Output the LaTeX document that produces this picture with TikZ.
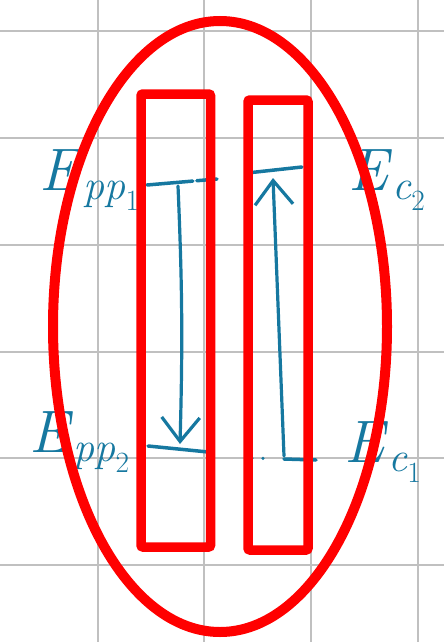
\documentclass[tikz,border=0pt]{standalone}
\usepackage{xcolor}
\usepackage{tikz}
\usetikzlibrary{arrows.meta, calc}
\definecolor{ink}{RGB}{22,120,160}
\definecolor{rule}{RGB}{192,192,192}
\newcommand{\energy}[2]{\textit{E}\textsubscript{\textit{#1}\textsubscript{#2}}}
\tikzset{
    gridline/.style={draw=rule, line width=2pt},
    bar/.style={rectangle, draw=red, line width=9.5pt, rounded corners=2pt, inner sep=0pt},
    ring/.style={draw=red, line width=10pt},
    level/.style={draw=ink, line width=3.5pt, line cap=round},
    arrow/.style={-{Straight Barb[length=24pt, width=38pt]}, draw=ink, line width=3.2pt, line cap=round},
    energylabel/.style={text=ink, font=\fontsize{60}{66}\selectfont, inner sep=0pt, anchor=base},
}
\begin{document}
\begin{tikzpicture}[x=1pt, y=-1pt]
    \useasboundingbox (0,0) rectangle (444,642);
    % squared paper
    \foreach \x in {97.5,204.3,311,417.7}
        \draw[gridline] (\x,0) -- (\x,642);
    \foreach \y in {31.5,138.2,245,351.7,458.4,565}
        \draw[gridline] (0,\y) -- (444,\y);

    % energy levels
    \coordinate (pp1a) at (147,185);
    \coordinate (pp1b) at (217,179);
    \coordinate (pp1m) at (178,186);
    \coordinate (pp2a) at (148,446);
    \coordinate (pp2b) at (208,452);
    \coordinate (pp2m) at (180,444);
    \coordinate (c2a) at (247,173);
    \coordinate (c2b) at (302,167);
    \coordinate (c2m) at (273,178);
    \coordinate (c1a) at (252,458);
    \coordinate (c1b) at (316,460);
    \coordinate (c1m) at (284,456);

    \draw[level, dash pattern=on 46pt off 4pt on 30pt] (pp1a) -- (pp1b);
    \draw[level] (pp2a) -- (pp2b);
    \draw[level] (c2a) -- (c2b);
    \draw[level, dash pattern=on 0pt off 11pt on 0pt off 21pt on 40pt] (c1a) -- (c1b);

    \draw[arrow] (pp1m) to[bend left=2] (pp2m);
    \draw[arrow] (c1m) -- (c2m);

    \node[energylabel] (epp1) at (90,190) {\energy{pp}{1}};
    \node[energylabel] (ec2) at (387,190) {\energy{c}{2}};
    \node[energylabel] (epp2) at (80,452) {\energy{pp}{2}};
    \node[energylabel] (ec1) at (383,462) {\energy{c}{1}};

    % the two bars and the system
    \node[bar, minimum width=69.5pt, minimum height=453pt] (ppbar) at (175.75,320.5) {};
    \node[bar, minimum width=60pt, minimum height=450pt] (cbar) at (278,325) {};
    \draw[ring] (220,326.5) ellipse [x radius=167, y radius=305.5];
\end{tikzpicture}
\end{document}
